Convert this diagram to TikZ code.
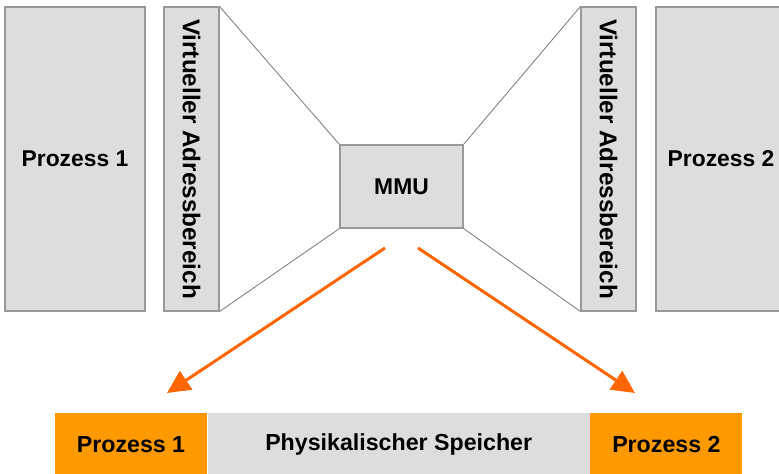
\documentclass[tikz,border=0pt]{standalone}
\usepackage{fontspec}
\setmainfont{Liberation Sans}
\usepackage{tikz}
\usetikzlibrary{arrows.meta,positioning}

\definecolor{boxgray}{HTML}{DDDDDD}
\definecolor{boxline}{HTML}{999999}
\definecolor{linkgray}{HTML}{808080}
\definecolor{memorange}{HTML}{FF9900}
\definecolor{arroworange}{HTML}{FF6600}

\begin{document}
\begin{tikzpicture}
    \tikzstyle{box} = [draw=boxline, fill=boxgray, line width=0.6pt, inner sep=0pt, font=\bfseries\fontsize{13}{15}\selectfont]
    \tikzstyle{vbox} = [box, minimum width=1.1cm, minimum height=6.08cm, font=\bfseries\fontsize{13.8}{15}\selectfont]
    \tikzstyle{mem} = [minimum height=1.28cm, inner sep=0pt, font=\bfseries\fontsize{13.2}{15}\selectfont]
    \tikzstyle{link} = [draw=linkgray, line width=0.5pt]
    \tikzstyle{arrow} = [arroworange, line width=1.7pt, -{Triangle[length=0.46cm,width=0.44cm]}]
    \useasboundingbox (0,0) rectangle (15.58,9.48);
    \clip (0,0) rectangle (15.58,9.48);

    % Left process
    \node [box, minimum width=2.8cm, minimum height=6.08cm] (Proc1) at (1.5,6.3) {Prozess 1};

    % Left virtual address space
    \node [vbox] (VirtLeft) at (3.83,6.3) {\rotatebox{-90}{Virtueller Adressbereich}};

    % Right virtual address space
    \node [vbox] (VirtRight) at (12.17,6.3) {\rotatebox{-90}{Virtueller Adressbereich}};

    % Right process, cut off at the border
    \node [box, minimum width=2.6cm, minimum height=6.08cm] (Proc2) at (14.42,6.3) {Prozess 2};

    % MMU in the middle
    \node [box, minimum width=2.46cm, minimum height=1.66cm] (MMU) at (8.03,5.75) {MMU};
    \draw [link] (VirtLeft.north east) -- (MMU.north west);
    \draw [link] (VirtLeft.south east) -- (MMU.south west);
    \draw [link] (VirtRight.north west) -- (MMU.north east);
    \draw [link] (VirtRight.south west) -- (MMU.south east);

    % Physical memory bar
    \node [mem, fill=memorange, minimum width=3.04cm] (MemProc1) at (2.62,0.58) {Prozess 1};
    \node [mem, fill=boxgray, minimum width=7.64cm, right=0pt of MemProc1] (MemPhys) {Physikalischer Speicher};
    \node [mem, fill=memorange, minimum width=3.04cm, right=0pt of MemPhys] (MemProc2) {Prozess 2};

    % Mapping arrows
    \coordinate (LeftStart) at (7.7,4.52);
    \coordinate (LeftEnd) at (3.34,1.62);
    \coordinate (RightStart) at (8.36,4.52);
    \coordinate (RightEnd) at (12.7,1.62);
    \draw [arrow] (LeftStart) -- (LeftEnd);
    \draw [arrow] (RightStart) -- (RightEnd);
\end{tikzpicture}
\end{document}
